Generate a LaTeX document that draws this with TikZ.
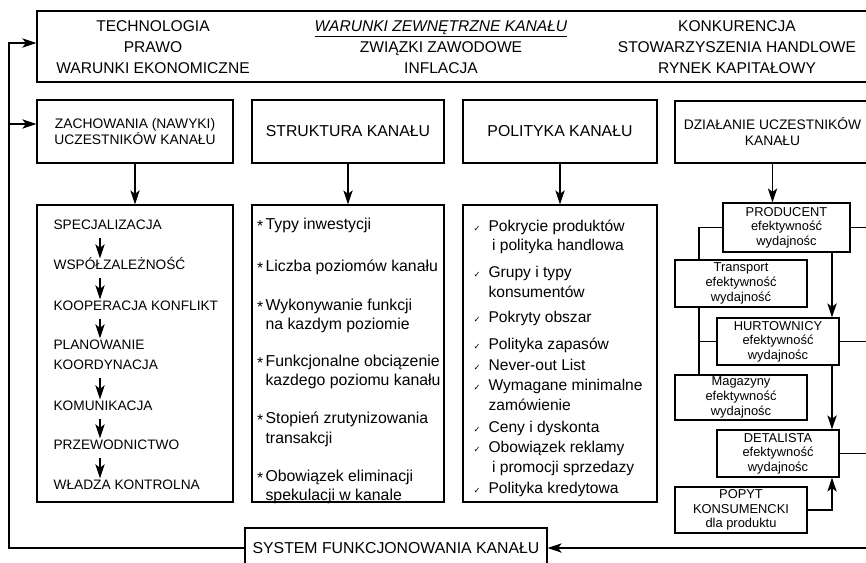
\documentclass[tikz,border=0pt]{standalone}
\usepackage{fontspec}
\setmainfont{Liberation Sans}
\newfontfamily\symfont{DejaVu Sans}
\usetikzlibrary{arrows.meta}

\newcommand\astx{\llap{\raisebox{-2pt}{*}\hspace{2pt}}}
\newcommand\tickm{\llap{{\symfont\fontsize{7}{7}\selectfont ✓}\hspace{7pt}}}

\begin{document}
\begin{tikzpicture}[x=0.03cm, y=-0.03cm, line width=1pt,
   >={Stealth[length=12pt,width=8pt,inset=3pt]},
   box/.style={draw, inner sep=0pt, align=center},
   envtext/.style={inner sep=0pt, align=center, font=\fontsize{13.3}{17.9}\selectfont},
   stage/.style={anchor=west, inner sep=0pt, text height=8.4pt, text depth=0pt, font=\fontsize{11.7}{14}\selectfont},
   feat/.style={anchor=north west, inner sep=0pt, align=left, font=\fontsize{13.5}{17}\selectfont},
   pol/.style={anchor=north west, inner sep=0pt, align=left, font=\fontsize{13.3}{17}\selectfont},
   unit/.style={box, font=\fontsize{11}{12.5}\selectfont}]
   \useasboundingbox (0,0) rectangle (866,563);
   \clip (0,0) rectangle (866,563);
   % otoczenie kanalu
   \node[box, minimum width=25.29cm, minimum height=2.13cm] (env) at (458.5,46.5) {};
   \node[envtext] (envl) at (153,47) {TECHNOLOGIA\\PRAWO\\WARUNKI EKONOMICZNE};
   \node[envtext] (envm) at (441,47) {\underline{\textit{WARUNKI ZEWNĘTRZNE KANAŁU}}\\ZWIĄZKI ZAWODOWE\\INFLACJA};
   \node[envtext] (envr) at (737,47) {KONKURENCJA\\STOWARZYSZENIA HANDLOWE\\RYNEK KAPITAŁOWY};
   % naglowki kolumn
   \node[box, minimum width=5.88cm, minimum height=1.89cm, font=\fontsize{11.8}{13.6}\selectfont] (hz) at (135,131.5) {ZACHOWANIA (NAWYKI)\\UCZESTNIKÓW KANAŁU};
   \node[box, minimum width=5.76cm, minimum height=1.89cm, font=\fontsize{13.5}{16}\selectfont] (hs) at (348,131.5) {STRUKTURA KANAŁU};
   \node[box, minimum width=5.82cm, minimum height=1.89cm, font=\fontsize{13.5}{16}\selectfont] (hp) at (560,131.5) {POLITYKA KANAŁU};
   \node[box, minimum width=5.85cm, minimum height=1.86cm, font=\fontsize{11.8}{13.6}\selectfont] (hd) at (772.5,132) {DZIAŁANIE UCZESTNIKÓW\\KANAŁU};
   % ramki kolumn
   \node[box, minimum width=5.88cm, minimum height=8.91cm] (c1) at (135,353.5) {};
   \node[box, minimum width=5.76cm, minimum height=8.91cm] (c2) at (348,353.5) {};
   \node[box, minimum width=5.82cm, minimum height=8.91cm] (c3) at (560,353.5) {};
   \draw[->] (hz) -- (c1);
   \draw[->] (hs) -- (c2);
   \draw[->] (hp) -- (c3);
   % zachowania
   \node[stage] (i1) at (53,225) {SPECJALIZACJA};
   \node[stage] (i2) at (53,265) {WSPÓŁZALEŻNOŚĆ};
   \node[stage] (i3) at (53,306) {KOOPERACJA KONFLIKT};
   \node[stage] (i4) at (53,345) {PLANOWANIE};
   \node[stage] (i5) at (53,365) {KOORDYNACJA};
   \node[stage] (i6) at (53,406) {KOMUNIKACJA};
   \node[stage] (i7) at (53,445) {PRZEWODNICTWO};
   \node[stage] (i8) at (53,485) {WŁADZA KONTROLNA};
   \coordinate (ax) at (100,0);
   \draw[->, shorten <=6pt, shorten >=1pt] (ax |- i1.south) -- (ax |- i2.north);
   \draw[->, shorten <=6pt, shorten >=1pt] (ax |- i2.south) -- (ax |- i3.north);
   \draw[->, shorten <=6pt, shorten >=1pt] (ax |- i3.south) -- (ax |- i4.north);
   \draw[->, shorten <=6pt, shorten >=1pt] (ax |- i5.south) -- (ax |- i6.north);
   \draw[->, shorten <=6pt, shorten >=1pt] (ax |- i6.south) -- (ax |- i7.north);
   \draw[->, shorten <=6pt, shorten >=1pt] (ax |- i7.south) -- (ax |- i8.north);
   % struktura
   \node[feat] (s1) at (265,217) {\astx Typy inwestycji};
   \node[feat] (s2) at (265,259) {\astx Liczba poziomów kanału};
   \node[feat] (s3) at (265,298) {\astx Wykonywanie funkcji\\na kazdym poziomie};
   \node[feat] (s4) at (265,354) {\astx Funkcjonalne obciązenie\\kazdego poziomu kanału};
   \node[feat] (s5) at (265,411) {\astx Stopień zrutynizowania\\transakcji};
   \node[feat] (s6) at (265,469) {\astx Obowiązek eliminacji\\spekulacji w kanale};
   % polityka
   \node[pol] (p1) at (488,219) {\tickm Pokrycie produktów\\\hspace{3pt}i polityka handlowa};
   \node[pol] (p2) at (488,266) {\tickm Grupy i typy\\konsumentów};
   \node[pol] (p3) at (488,311) {\tickm Pokryty obszar};
   \node[pol] (p4) at (488,337) {\tickm Polityka zapasów};
   \node[pol] (p5) at (488,359) {\tickm Never-out List};
   \node[pol] (p6) at (488,379) {\tickm Wymagane minimalne\\zamówienie};
   \node[pol] (p7) at (488,421) {\tickm Ceny i dyskonta};
   \node[pol] (p8) at (488,441) {\tickm Obowiązek reklamy\\\hspace{3pt}i promocji sprzedazy};
   \node[pol] (p9) at (488,482) {\tickm Polityka kredytowa};
   % uczestnicy
   \node[unit, minimum width=3.81cm, minimum height=1.47cm] (prod) at (786.5,227.5) {PRODUCENT\\efektywność\\wydajnośc};
   \node[unit, minimum width=3.96cm, minimum height=1.41cm] (transp) at (741,283.5) {Transport\\efektywność\\wydajność};
   \node[unit, minimum width=3.66cm, minimum height=1.41cm] (hurt) at (778,341.5) {HURTOWNICY\\efektywność\\wydajnośc};
   \node[unit, minimum width=3.96cm, minimum height=1.35cm] (mag) at (741,397.5) {Magazyny\\efektywność\\wydajnośc};
   \node[unit, minimum width=3.66cm, minimum height=1.41cm] (det) at (778,453.5) {DETALISTA\\efektywność\\wydajnośc};
   \node[unit, minimum width=3.96cm, minimum height=1.38cm] (popyt) at (741,510) {POPYT\\KONSUMENCKI\\dla produktu};
   \coordinate (lbus) at (699,0);
   \coordinate (mainx) at (832,0);
   \coordinate (redge) at (870,0);
   \draw[->] (hd.south) -- (hd.south |- prod.north);
   \draw (prod.west) -| (lbus |- transp.north);
   \draw (lbus |- transp.south) -- (lbus |- mag.north);
   \draw (hurt.west) -- (hurt.west -| lbus);
   \draw[->] (mainx |- prod.south) -- (mainx |- hurt.north);
   \draw[->] (mainx |- hurt.south) -- (mainx |- det.north);
   \draw[->] (popyt.east) -| (mainx |- det.south);
   \draw (prod.east) -- (prod.east -| redge);
   \draw (hurt.east) -- (hurt.east -| redge);
   \draw (det.east) -- (det.east -| redge);
   % system i sprzezenie zwrotne
   \node[box, minimum width=9.06cm, minimum height=1.2cm, font=\fontsize{13.5}{16}\selectfont] (sys) at (396,548) {SYSTEM FUNKCJONOWANIA KANAŁU};
   \coordinate (fbtop) at (9,43);
   \coordinate (fbmid) at (9,124);
   \draw[->] (sys.west) -| (fbtop) -- (fbtop -| env.west);
   \draw[->] (fbmid) -- (fbmid -| hz.west);
   \draw[->] (sys.east -| redge) -- (sys.east);
\end{tikzpicture}
\end{document}
